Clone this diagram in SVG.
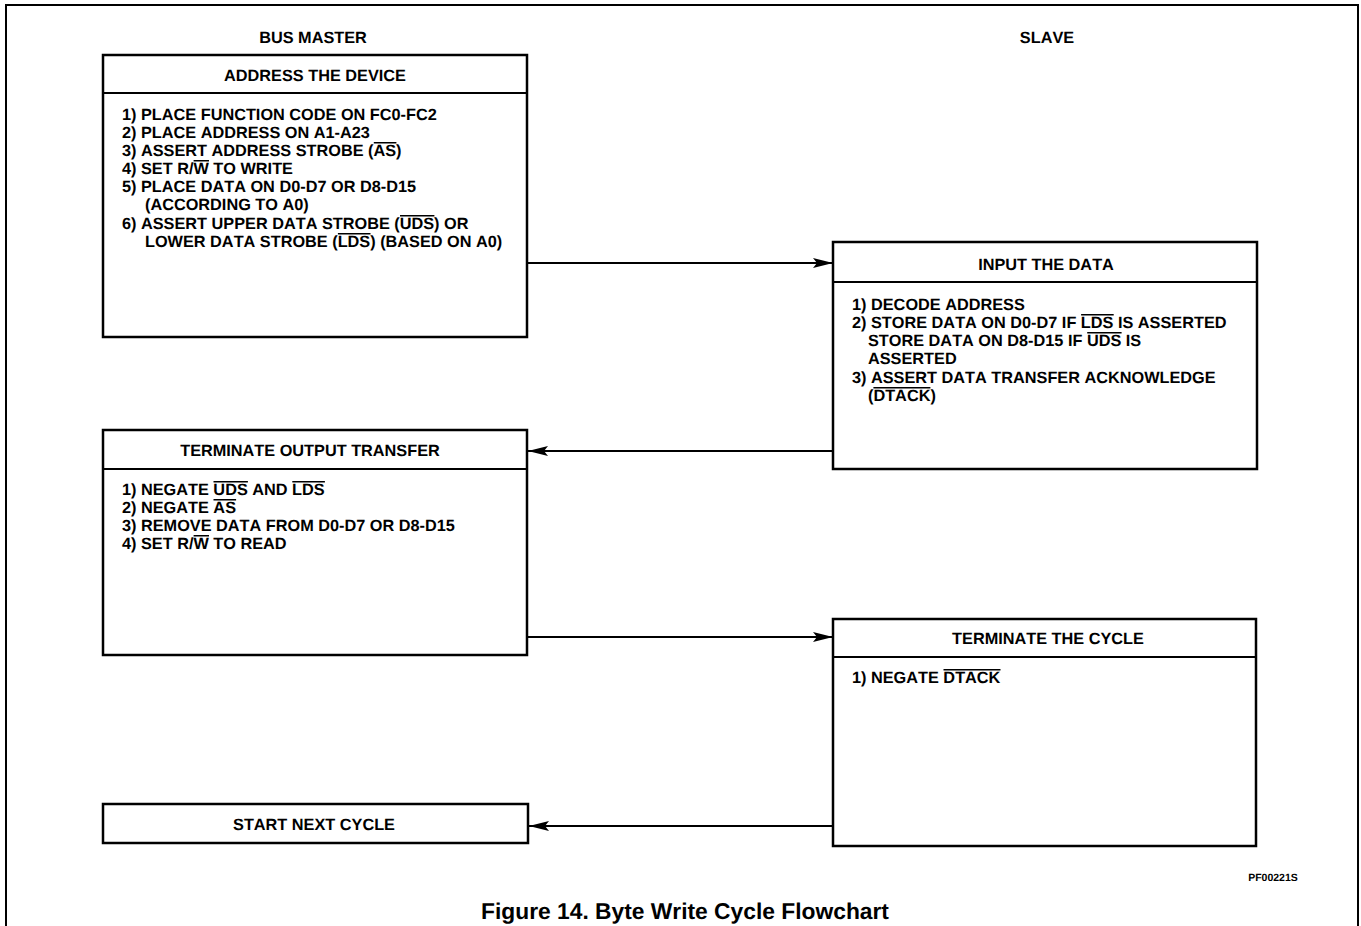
<svg xmlns="http://www.w3.org/2000/svg" width="1361" height="926" viewBox="0 0 1361 926">
<defs>
<style>
.box{fill:#fff;stroke:#000;stroke-width:2.5}
.div{stroke:#000;stroke-width:2}
.t{font-family:"Liberation Sans",Arial,sans-serif;font-weight:bold;font-size:16.3px;fill:#000;font-kerning:none;text-rendering:geometricPrecision}
.h{text-anchor:middle}
.ov{stroke:#000;stroke-width:1.4;fill:none}
.c{stroke:#000;stroke-width:2;fill:none}
</style>
<marker id="ah" viewBox="0 0 20 10" refX="20" refY="5" markerWidth="20" markerHeight="10" markerUnits="userSpaceOnUse" orient="auto">
<path d="M0,0 L20,5 L0,10 L4,5 Z" fill="#000"/>
</marker>
</defs>
<rect width="1361" height="926" fill="#fff"/>
<path d="M6,930 V5 H1358 V930" fill="none" stroke="#000" stroke-width="2"/>
<text class="t h" x="313" y="43">BUS MASTER</text>
<text class="t h" x="1047" y="43">SLAVE</text>

<g id="n1">
<rect class="box" x="103" y="55" width="424" height="282"/>
<line class="div" x1="103" y1="93" x2="527" y2="93"/>
<text class="t h" x="315" y="81">ADDRESS THE DEVICE</text>
<text class="t" x="122" y="120">1) PLACE FUNCTION CODE ON FC0-FC2</text>
<text class="t" x="122" y="138">2) PLACE ADDRESS ON A1-A23</text>
<text class="t" x="122" y="156">3) ASSERT ADDRESS STROBE (AS)</text>
<text class="t" x="122" y="174">4) SET R/W TO WRITE</text>
<text class="t" x="122" y="192">5) PLACE DATA ON D0-D7 OR D8-D15</text>
<text class="t" x="145" y="210">(ACCORDING TO A0)</text>
<text class="t" x="122" y="229">6) ASSERT UPPER DATA STROBE (UDS) OR</text>
<text class="t" x="145" y="247">LOWER DATA STROBE (LDS) (BASED ON A0)</text>
<path class="ov" d="M373.8,142.7 h22.6 M193.6,160.7 h15.4 M400,215.7 h34.4 M337.9,233.7 h32.6"/>
</g>

<g id="n2">
<rect class="box" x="833" y="242" width="424" height="227"/>
<line class="div" x1="833" y1="282" x2="1257" y2="282"/>
<text class="t h" x="1046" y="270">INPUT THE DATA</text>
<text class="t" x="852" y="310">1) DECODE ADDRESS</text>
<text class="t" x="852" y="328">2) STORE DATA ON D0-D7 IF LDS IS ASSERTED</text>
<text class="t" x="868" y="346">STORE DATA ON D8-D15 IF UDS IS</text>
<text class="t" x="868" y="364">ASSERTED</text>
<text class="t" x="852" y="383">3) ASSERT DATA TRANSFER ACKNOWLEDGE</text>
<text class="t" x="868" y="401">(DTACK)</text>
<path class="ov" d="M1081.1,314.7 h32.6 M1087.2,332.7 h34.4 M873.4,387.7 h57"/>
</g>

<g id="n3">
<rect class="box" x="103" y="430" width="424" height="225"/>
<line class="div" x1="103" y1="469" x2="527" y2="469"/>
<text class="t h" x="310" y="456">TERMINATE OUTPUT TRANSFER</text>
<text class="t" x="122" y="495">1) NEGATE UDS AND LDS</text>
<text class="t" x="122" y="513">2) NEGATE AS</text>
<text class="t" x="122" y="531">3) REMOVE DATA FROM D0-D7 OR D8-D15</text>
<text class="t" x="122" y="549">4) SET R/W TO READ</text>
<path class="ov" d="M213.5,481.7 h34.4 M292.3,481.7 h32.6 M213.5,499.7 h22.6 M193.6,535.7 h15.4"/>
</g>

<g id="n4">
<rect class="box" x="833" y="619" width="423" height="227"/>
<line class="div" x1="833" y1="657" x2="1256" y2="657"/>
<text class="t h" x="1048" y="644">TERMINATE THE CYCLE</text>
<text class="t" x="852" y="683">1) NEGATE DTACK</text>
<path class="ov" d="M943.5,669.7 h57"/>
</g>

<g id="n5">
<rect class="box" x="103" y="804" width="425" height="39"/>
<text class="t h" x="314" y="830">START NEXT CYCLE</text>
</g>

<g id="connectors">
<line class="c" x1="527" y1="263" x2="833" y2="263" marker-end="url(#ah)"/>
<line class="c" x1="833" y1="451" x2="528" y2="451" marker-end="url(#ah)"/>
<line class="c" x1="527" y1="637" x2="833" y2="637" marker-end="url(#ah)"/>
<line class="c" x1="833" y1="826" x2="529" y2="826" marker-end="url(#ah)"/>
</g>

<text class="t" x="1273" y="881" text-anchor="middle" style="font-size:10.5px">PF00221S</text>
<text class="t h" x="685" y="919" style="font-size:22.8px">Figure 14. Byte Write Cycle Flowchart</text>
</svg>
